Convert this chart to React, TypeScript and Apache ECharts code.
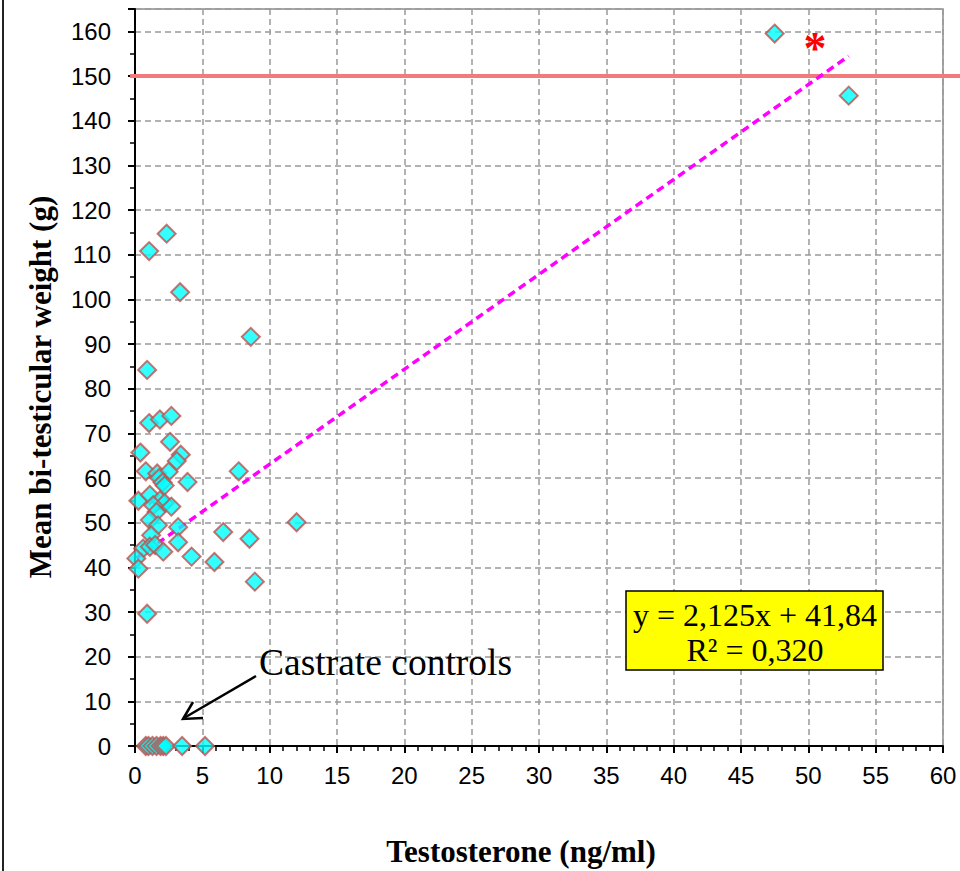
import React, { useEffect, useRef } from 'react';
import * as echarts from 'echarts';

// Testosterone (ng/ml) and mean bi-testicular weight (g) of individual animals
const testosterone = [
  47.5, 53.0, 2.35, 1.05, 3.35, 8.6, 0.9, 1.05, 1.85, 2.7,
  2.6, 0.4, 3.4, 3.1, 0.8, 1.65, 2.5, 1.8, 2.05, 2.2,
  3.9, 7.7, 0.25, 1.1, 1.85, 2.2, 2.7, 1.35, 1.6, 1.1,
  1.7, 3.2, 12.0, 1.2, 6.55, 8.5, 3.2, 0.6, 1.1, 1.5,
  2.1, 0.1, 4.2, 5.9, 0.25, 8.9, 0.9,
];
const weight = [
  159.5, 145.6, 114.7, 110.8, 101.6, 91.6, 84.2, 72.3, 73.1, 73.9,
  68.1, 65.7, 65.2, 63.8, 61.5, 61.0, 61.4, 60.0, 59.0, 58.3,
  59.1, 61.5, 54.9, 56.2, 55.0, 54.4, 53.6, 53.9, 52.4, 50.6,
  49.4, 49.0, 50.1, 47.2, 47.9, 46.4, 45.6, 44.2, 44.6, 45.0,
  43.5, 42.0, 42.4, 41.2, 39.7, 36.8, 29.6,
];
// Castrate controls (weight 0)
const castrateTestosterone = [0.8, 1.0, 1.3, 1.6, 1.9, 2.1, 2.3, 3.5, 5.2];
const castrateWeight = [0, 0, 0, 0, 0, 0, 0, 0, 0];

// Linear trend line
const trendSlope = 2.125;
const trendIntercept = 41.84;
const trendR2 = 0.32;
const trendRange = [0.1, 53.0];

// Reference weight line
const referenceWeight = 150;

const xTitle = 'Testosterone (ng/ml)';
const yTitle = 'Mean bi-testicular weight (g)';
const annotation = 'Castrate controls';

const fmt = (v: number, d: number) => v.toFixed(d).replace('.', ',');

export default function App() {
  const ref = useRef<HTMLDivElement>(null);
  useEffect(() => {
    const chart = echarts.init(ref.current!, null, { renderer: 'svg' });
    const points = testosterone.map((x, i) => [x, weight[i]]);
    const castrate = castrateTestosterone.map((x, i) => [x, castrateWeight[i]]);
    const trend = trendRange.map((x) => [x, trendSlope * x + trendIntercept]);
    const sans = 'Liberation Sans';
    const serif = 'Liberation Serif';
    const markerStyle = {
      color: '#00FFFF',
      borderColor: '#C0504D',
      borderWidth: 2,
    };
    const option: any = {
      animation: false,
      backgroundColor: '#fff',
      grid: {
        left: 135,
        right: 17,
        top: 9,
        bottom: 125,
        show: true,
        borderColor: '#8C8C8C',
        borderWidth: 1.5,
        backgroundColor: 'transparent',
      },
      xAxis: {
        type: 'value',
        min: 0,
        max: 60,
        interval: 5,
        axisLine: { show: true, onZero: false, lineStyle: { color: '#000', width: 2 } },
        axisTick: { show: true, length: 7, lineStyle: { color: '#000', width: 2 } },
        minorTick: { show: true, splitNumber: 5, length: 5, lineStyle: { color: '#000', width: 1.5 } },
        axisLabel: { color: '#000', fontFamily: sans, fontSize: 24, margin: 17 },
        splitLine: { show: true, lineStyle: { color: '#999', width: 1.5, type: [6, 4] } },
      },
      yAxis: {
        type: 'value',
        min: 0,
        max: 165,
        interval: 10,
        axisLine: { show: true, onZero: false, lineStyle: { color: '#000', width: 2 } },
        axisTick: { show: true, length: 7, lineStyle: { color: '#000', width: 2 } },
        minorTick: { show: true, splitNumber: 2, length: 5, lineStyle: { color: '#000', width: 1.5 } },
        axisLabel: { color: '#000', fontFamily: sans, fontSize: 24, margin: 24, showMaxLabel: false },
        splitLine: { show: true, lineStyle: { color: '#999', width: 1.5, type: [6, 4] } },
      },
      series: [
        {
          type: 'line',
          data: trend,
          symbol: 'none',
          z: 3,
          lineStyle: { color: '#FF00FF', width: 3.5, type: [8, 5] },
        },
        {
          type: 'scatter',
          data: castrate,
          symbol: 'diamond',
          symbolSize: 18,
          z: 4,
          itemStyle: markerStyle,
        },
        {
          type: 'scatter',
          data: points,
          symbol: 'diamond',
          symbolSize: 18,
          z: 4,
          itemStyle: markerStyle,
        },
      ],
    };
    chart.setOption(option);
    const yRef = chart.convertToPixel({ gridIndex: 0 }, [0, referenceWeight])[1];
    chart.setOption({
      graphic: [
        {
          type: 'line',
          shape: { x1: 3, y1: 0, x2: 3, y2: 871 },
          style: { stroke: '#222', lineWidth: 2 },
        },
        {
          type: 'line',
          z: 1,
          shape: { x1: 130, y1: yRef, x2: 960, y2: yRef },
          style: { stroke: '#F27A7A', lineWidth: 4 },
        },
        {
          type: 'text',
          x: 815,
          y: 48,
          style: {
            text: '*',
            fill: '#FF0000',
            fontFamily: serif,
            fontWeight: 'bold',
            fontSize: 46,
            align: 'center',
            verticalAlign: 'middle',
          },
        },
        {
          type: 'rect',
          z: 5,
          shape: { x: 626, y: 591, width: 257, height: 79 },
          style: { fill: '#FFFF00', stroke: '#000', lineWidth: 1.5 },
        },
        {
          type: 'text',
          z: 6,
          x: 755,
          y: 632,
          style: {
            text: `y = ${fmt(trendSlope, 3)}x + ${fmt(trendIntercept, 2)}\nR² = ${fmt(trendR2, 3)}`,
            fill: '#000',
            fontFamily: serif,
            fontSize: 32,
            lineHeight: 35,
            align: 'center',
            verticalAlign: 'middle',
          },
        },
        {
          type: 'text',
          x: 259,
          y: 662,
          style: {
            text: annotation,
            fill: '#000',
            fontFamily: serif,
            fontSize: 37.5,
            align: 'left',
            verticalAlign: 'middle',
          },
        },
        {
          type: 'line',
          shape: { x1: 256, y1: 676, x2: 184, y2: 718 },
          style: { stroke: '#000', lineWidth: 2.5 },
        },
        {
          type: 'polyline',
          shape: { points: [[193, 702], [183, 719], [203, 718]] },
          style: { stroke: '#000', lineWidth: 2.5, fill: 'none' },
        },
        {
          type: 'text',
          x: 521,
          y: 851,
          style: {
            text: xTitle,
            fill: '#000',
            fontFamily: serif,
            fontWeight: 'bold',
            fontSize: 31,
            align: 'center',
            verticalAlign: 'middle',
          },
        },
        {
          type: 'text',
          x: 40,
          y: 387,
          rotation: Math.PI / 2,
          style: {
            text: yTitle,
            fill: '#000',
            fontFamily: serif,
            fontWeight: 'bold',
            fontSize: 31,
            align: 'center',
            verticalAlign: 'middle',
          },
        },
      ],
    });
    return () => chart.dispose();
  }, []);
  return (
    <div
      ref={ref}
      style={{ position: 'absolute', left: 0, top: 0, width: 960, height: 871 }}
    />
  );
}
